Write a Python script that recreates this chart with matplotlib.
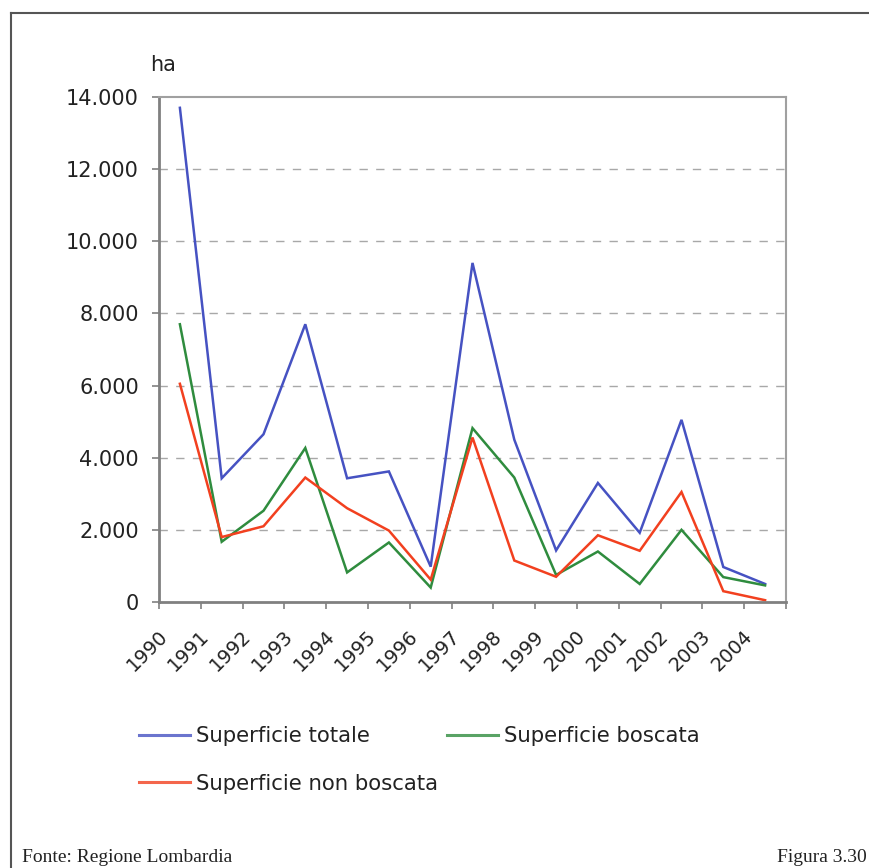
import matplotlib
matplotlib.use("Agg")
import matplotlib.pyplot as plt
from matplotlib.lines import Line2D
from matplotlib.ticker import FuncFormatter
import matplotlib.transforms as mtransforms

years = ["1990", "1991", "1992", "1993", "1994", "1995", "1996", "1997",
         "1998", "1999", "2000", "2001", "2002", "2003", "2004"]
totale = [13700, 3430, 4650, 7700, 3430, 3620, 980, 9400,
          4500, 1430, 3300, 1920, 5050, 970, 500]
boscata = [7700, 1670, 2530, 4270, 820, 1650, 400, 4820,
           3450, 750, 1400, 500, 2000, 690, 460]
non_boscata = [6050, 1800, 2100, 3450, 2600, 1980, 620, 4560,
               1150, 700, 1850, 1420, 3050, 300, 50]
series_labels = ["Superficie totale", "Superficie boscata", "Superficie non boscata"]
colors = ["#4652c2", "#2f8c3e", "#f2401f"]
y_ticks = [0, 2000, 4000, 6000, 8000, 10000, 12000, 14000]

W, H = 869, 868
fig = plt.figure(figsize=(W / 100, H / 100), dpi=100)
fig.patch.set_facecolor("white")

ax = fig.add_axes([159 / W, 1 - 602 / H, (786 - 159) / W, (602 - 97) / H])
x = list(range(len(years)))
for vals, lab, col in zip([totale, boscata, non_boscata], series_labels, colors):
    ax.plot(x, vals, color=col, lw=1.8, label=lab, solid_joinstyle="miter")

ax.set_xlim(-0.5, len(years) - 0.5)
ax.set_ylim(0, 14000)
ax.set_yticks(y_ticks)
ax.yaxis.set_major_formatter(FuncFormatter(lambda v, p: f"{int(v):,}".replace(",", ".")))
ax.tick_params(axis="y", labelsize=15, length=5, width=1.2, color="#808080",
               pad=9.5, labelcolor="#222222")
ax.set_xticks([i - 0.5 for i in range(len(years) + 1)])
ax.set_xticklabels([])
ax.tick_params(axis="x", length=5, width=1.2, color="#808080")

for v in y_ticks[1:-1]:
    ax.axhline(v, color="#a8a8a8", lw=1.0, ls=(0, (6, 6)), zorder=0)

for side in ["top", "right"]:
    ax.spines[side].set_color("#a0a0a0")
    ax.spines[side].set_linewidth(1.5)
for side in ["left", "bottom"]:
    ax.spines[side].set_color("#808080")
    ax.spines[side].set_linewidth(2.0)

# rotated year labels below each category
offset = mtransforms.ScaledTranslation(-15.5 / 100, -31 / 100, fig.dpi_scale_trans)
trans = mtransforms.blended_transform_factory(ax.transData, ax.transAxes) + offset
for i, yr in enumerate(years):
    ax.text(i, 0, yr, transform=trans, rotation=45, ha="right", va="center",
            rotation_mode="anchor", fontsize=14, color="#222222")

fig.text(150 / W, 1 - 65 / H, "ha", fontsize=15, color="#222222", va="center", ha="left")

# legend: two columns, filled column by column
handles = [Line2D([], [], color=c, lw=2.2, alpha=0.8) for c in colors]
order = [0, 2, 1]
fig.legend([handles[i] for i in order], [series_labels[i] for i in order],
           loc="upper left", bbox_to_anchor=(120 / W, 1 - 707 / H), ncol=2,
           frameon=False, fontsize=15.3, handlelength=2.4, handletextpad=0.3,
           columnspacing=0.4, labelspacing=1.3, labelcolor="#222222")

# page frame and footer
fig.add_artist(Line2D([11 / W, 11 / W], [0, 1 - 13 / H], color="#555555", lw=1.5,
                      transform=fig.transFigure))
fig.add_artist(Line2D([11 / W, 1], [1 - 13 / H, 1 - 13 / H], color="#555555", lw=1.5,
                      transform=fig.transFigure))
fig.text(22 / W, 1 - 857 / H, "Fonte: Regione Lombardia", family="Liberation Serif",
         fontsize=14, color="#222222", va="center", ha="left")
fig.text(867 / W, 1 - 857 / H, "Figura 3.30", family="Liberation Serif",
         fontsize=14, color="#222222", va="center", ha="right")

fig.savefig("out.png", dpi=100, facecolor="white")
